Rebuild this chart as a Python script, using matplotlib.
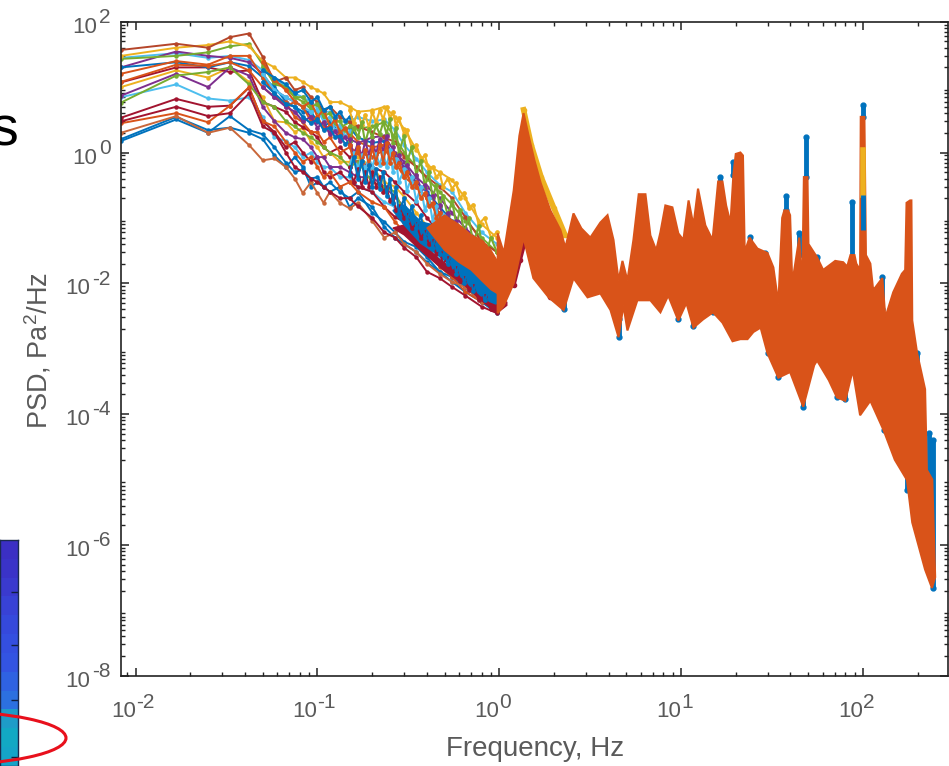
import matplotlib
matplotlib.use("Agg")
import matplotlib.pyplot as plt
from matplotlib.patches import Ellipse
from matplotlib.colors import to_rgb
from matplotlib.ticker import LogLocator, NullFormatter

plt.rcParams['font.family'] = ['Liberation Sans', 'DejaVu Sans']
plt.rcParams['mathtext.fontset'] = 'custom'
plt.rcParams['mathtext.rm'] = 'Liberation Sans'
plt.rcParams['mathtext.default'] = 'regular'

blue, orange, yellow, purple, green, cyan, red = '#0072BD', '#D95319', '#EDB120', '#7E2F8E', '#77AC30', '#4DBEEE', '#A2142F'

# low frequency part, one list per run
f_low = [0.0083, 0.0167, 0.025, 0.033, 0.042, 0.05, 0.058, 0.067, 0.075, 0.083, 0.092, 0.1, 0.108, 0.117,
         0.133, 0.15, 0.167, 0.2, 0.233, 0.267, 0.3, 0.35, 0.4, 0.47, 0.55, 0.65, 0.8, 0.97]
s01 = [37, 46, 40, 58, 66, 29, 12, 14, 9, 10, 7, 5.9, 4.2, 5, 3.5, 2.9, 2.5, 2.05, 1.7, 1.45, .85, .6, .42, .3, .2, .103, .043, .03]
s02 = [30, 40, 44, 50, 42, 25, 20, 14, 14, 12, 10, 9, 8, 5.9, 5.9, 5, 4.2, 4.4, 5, 3.5, 2.3, 1.1, .65, .5, .38, .2, .08, .05]
s03 = [28, 33, 28, 30, 26, 18, 14, 10, 8, 7, 5.9, 5, 4.2, 4.2, 3.5, 3, 3.5, 3, 3.2, 2.2, 1.3, .8, .5, .32, .25, .12, .06, .04]
s04 = [27, 30, 34, 42, 46, 22, 11, 10, 7, 6, 4.6, 4.2, 3.5, 3, 2.4, 2.9, 2.3, 2.5, 2.9, 1.7, 1, .6, .4, .25, .16, .09, .05, .03]
s05 = [20, 35, 30, 28, 24, 16, 9, 7, 5.9, 5, 3.5, 2.9, 2.5, 2.05, 2, 1.6, 1.4, 1.7, 1.8, 1, .72, .42, .3, .2, .12, .07, .04, .02]
s06 = [20, 24, 20, 24, 21, 14, 10, 6, 5, 4.2, 4.2, 3, 2.5, 2.9, 2.05, 2.4, 1.7, 1.4, 1.5, .85, .6, .35, .25, .147, .09, .05, .025, .012]
s07 = [12, 22, 21, 24, 18, 10, 7, 5.9, 3.5, 2.9, 2.05, 2.05, 1.45, 1.7, 1, 1.2, 1, .85, 1.1, .72, .42, .3, .2, .1, .06, .035, .02, .01]
s08 = [11.8, 20, 20, 17, 18, 5.9, 5, 4.2, 2.9, 2.45, 2.05, 1.7, 1.2, 1, 1.2, .85, .72, .6, .5, .35, .25, .17, .1, .06, .035, .018, .01, .006]
s09 = [10, 18, 14, 20, 12, 7, 3, 2.9, 2.05, 2.4, 1.45, 1.2, .85, 1, .72, .72, .85, .6, .35, .3, .21, .12, .075, .045, .03, .015, .009, .005]
s10 = [7.4, 16, 10, 20, 15, 5, 3, 2, 1.7, 1.6, 1.2, .85, .85, .6, .6, .5, .42, .42, .3, .21, .147, .087, .06, .036, .02, .012, .0074, .0044]
s11 = [5.8, 15, 17, 20, 11, 5.9, 5, 3, 2.5, 2, 1.7, 1.45, 1.2, 1, .85, .6, .72, .35, .3, .25, .12, .087, .05, .03, .0175, .0105, .0062, .0037]
s12 = [7, 11, 6.7, 6.2, 7, 3.5, 1.7, 1.5, 1.2, .85, 1, .72, .6, .6, .42, .42, .3, .25, .175, .147, .1, .06, .04, .025, .015, .009, .0065, .0045]
s13 = [3.4, 6.6, 5, 5.2, 9.8, 3, 2.05, 1.2, 1.45, 1, .72, .85, .5, .42, .5, .35, .3, .25, .147, .103, .087, .05, .036, .021, .0125, .0088, .0052, .0037]
s14 = [2.8, 4, 2.9, 5.2, 10, 3, 2.5, 1.45, 1, .72, .85, .6, .42, .5, .3, .35, .25, .175, .147, .087, .061, .043, .03, .018, .0125, .0074, .0052, .0044]
s15 = [2, 3.6, 2, 2.4, 1.3, .76, .81, .6, .4, .24, .35, .24, .17, .25, .17, .14, .17, .09, .05, .06, .04, .03, .02, .014, .0105, .0088, .0052, .0044]
s16 = [1.5, 3.2, 2, 3.6, 2.2, 1.9, 1.2, .7, .5, .55, .4, .42, .3, .35, .25, .2, .25, .12, .087, .06, .043, .036, .025, .015, .0125, .0088, .0062, .0044]
s17 = [1.6, 3.5, 2.2, 2.4, 2, 1.6, .9, .6, .85, .6, .3, .35, .3, .25, .3, .147, .2, .147, .073, .05, .04, .03, .021, .015, .0105, .0074, .0052, .0035]
s18 = [3, 5, 3.6, 4, 8, 2.5, 2, 1, .6, .5, .4, .35, .3, .25, .2, .2, .15, .1, .06, .05, .035, .025, .015, .012, .0088, .0065, .0044, .0035]
s19 = [16, 25, 22, 30, 30, 14, 8, 5, 6, 5, 3, 3.5, 2.4, 2.5, 1.7, 2, 1.45, 1.2, 1.3, .85, .5, .3, .2, .12, .07, .04, .02, .012]
low_runs = [s12, s03, s05, s04, s02, s09, s13, s08, s10, s11, s06, s17, s16, s01, s14, s15, s18, s07, s19]
low_colors = [cyan, cyan, purple, green, yellow, yellow, red, red, purple, green,
              blue, blue, blue, '#B5452A', orange, '#C9673A', red, orange, orange]

# extra runs where the band is thick, 0.05 to 0.15 Hz
f_mid = [0.05, 0.058, 0.067, 0.075, 0.083, 0.092, 0.1, 0.108, 0.117, 0.125, 0.133, 0.142, 0.15]
mid_blue = [18, 14, 11, 8, 9, 6, 7, 4.5, 5, 3.5, 4.2, 3, 3.5]
mid_green = [20, 12, 10, 7, 7, 5, 5.5, 3.6, 4, 3, 3, 2.2, 2.5]
mid_cyan = [16, 9, 7, 6, 5, 4.2, 4.5, 3, 3.5, 2.2, 2.6, 1.8, 2.1]
mid_purple = [10, 7, 5, 4.2, 3, 3.5, 2.4, 2.9, 1.9, 2.1, 1.5, 1.7, 1.3]
mid_orange = [24, 13, 9, 6, 5, 6, 3.5, 4.5, 2.5, 3.2, 2, 2.4, 1.7]
mid_blue2 = [12, 8, 5.5, 5, 3.5, 2.8, 3.2, 2.2, 2.4, 1.7, 1.8, 1.35, 1.5]
mid_runs = [mid_cyan, mid_purple, mid_green, mid_orange, mid_blue2, mid_blue]
mid_colors = [cyan, purple, green, orange, blue, blue]

# ragged runs between 0.15 and 1 Hz
f_rag = [0.15, .158, .167, .175, .183, .192, .2, .21, .22, .23, .24, .25, .26, .27, .28, .3, .31, .33, .35, .37,
         .39, .41, .43, .45, .47, .49, .52, .55, .58, .61, .64, .68, .72, .77, .83, .9, .97]
rag_yellow = [4.4, 2.8, 4.2, 2.6, 3.8, 2.4, 4.2, 2.9, 4.4, 3.2, 5, 3.4, 4.2, 2.6, 3.4, 1.9, 2.2, 1.2, 1.3, .8, .9, .55, .6, .42, .48, .3, .4, .28, .34, .2, .24, .14, .16, .08, .1, .05, .06]
rag_green = [1.5, 2.4, 1.7, 2.9, 1.4, 2.3, 1.7, 2.6, 1.9, 2.9, 1.9, 3.2, 1.4, 2.4, 1, 1.8, .7, 1.2, .45, .75, .3, .5, .2, .32, .15, .22, .11, .18, .08, .13, .06, .1, .04, .075, .025, .05, .03]
rag_purple = [1.6, .9, 1.4, .85, 1.5, .9, 1.5, .95, 1.6, 1, 1.8, .95, 1.2, .75, .9, .55, .65, .4, .45, .28, .32, .2, .22, .14, .16, .1, .12, .07, .09, .05, .06, .035, .045, .025, .03, .018, .02]
rag_cyan = [.6, 1, .55, .9, .55, .85, .6, .95, .65, 1, .6, 1.1, .5, .8, .35, .55, .26, .42, .18, .3, .13, .2, .09, .15, .06, .11, .05, .08, .032, .055, .024, .042, .017, .03, .012, .02, .014]
rag_red = [.6, .35, .55, .3, .5, .3, .5, .3, .42, .25, .3, .18, .22, .13, .15, .1, .11, .07, .08, .05, .06, .04, .045, .028, .03, .02, .024, .015, .017, .011, .012, .008, .009, .0055, .0065, .004, .0045]
rag_blue = [.45, .85, .4, .75, .35, .65, .3, .55, .28, .5, .22, .4, .17, .3, .12, .2, .09, .15, .07, .11, .05, .075, .035, .055, .028, .04, .02, .03, .014, .022, .01, .016, .0075, .012, .0055, .009, .007]
rag_orange = [1.3, .75, 1.2, .7, 1.1, .65, 1.2, .7, 1.3, .7, 1.4, .7, 1, .6, .7, .42, .5, .3, .35, .2, .24, .15, .17, .1, .12, .07, .09, .05, .06, .035, .042, .024, .03, .017, .02, .011, .014]
rag_runs = [rag_yellow, rag_green, rag_purple, rag_cyan, rag_orange]
rag_colors = [yellow, green, purple, cyan, orange]

# solid ribbons at the bottom of the band below 1 Hz
f_ribbon_blue = [.26, .3, .37, .48, .575, .70, .84, .98, 1.1]
ribbon_blue_top = [.13, .158, .087, .073, .046, .025, .01, .0095, .0095]
ribbon_blue_bottom = [.13, .078, .041, .025, .015, .0088, .0056, .0047, .0066]
f_ribbon_red = [.26, .3, .37, .48, .64, .79, .97, 1.1]
ribbon_red_top = [.07, .078, .041, .022, .012, .0066, .0047, .0052]
ribbon_red_bottom = [.07, .055, .032, .017, .0095, .0056, .0035, .0046]
f_ribbon_orange = [.4, .5, .6, .7, .8, .9, 1.0, 1.1]
ribbon_orange_top = [.07, .11, .079, .055, .046, .032, .0195, .027]
ribbon_orange_bottom = [.07, .032, .021, .016, .011, .008, .0067, .008]

# edges of the merged runs above 1 Hz
f_upper = [0.98, 1.06, 1.2, 1.29, 1.36, 1.45, 1.56, 1.69, 1.91, 2.17, 2.31, 2.56, 2.83, 3.17, 3.6, 3.94, 4.25, 4.53, 4.76, 5.07,
           5.47, 5.85, 6.37, 6.78, 7.3, 7.7, 8.2, 8.96, 9.66, 10.3, 11, 11.7, 12.4, 13.6, 14.9, 16, 16.9, 17.7, 18.7, 19.4, 20, 21.2, 21.9,
           22.4, 23.8, 26.3, 29.9, 32.2, 34.3, 36, 37, 38.8, 39.8, 40.9, 44.7, 46.4, 47.4, 49.6, 50.2, 56, 60.5, 70.5, 78, 82, 85.5, 90,
           92, 96.6, 97.4, 102, 104, 110, 114, 128, 133, 147, 164, 171, 174, 182, 185, 187, 199, 220, 225, 241, 250]
psd_upper = [.058, .029, .26, 1.8, 4.0, 1.8, .76, .34, .13, .065, .035, .117, .069, .05, .085, .11, .046, .011, .022, .011,
             .046, .23, .23, .054, .032, .06, .155, .145, .058, .046, .185, .077, .28, .077, .046, .36, .36, .155, .083, .45, .95, 1.0, .9,
             .03, .05, .034, .029, .0175, .0049, .1, .13, .13, .11, .01, .05, .0078, .42, .42, .04, .025, .016, .022, .021, .018, .027, .027,
             .02, .016, 3.5, 3.5, .027, .02, .0078, .012, .003, .0073, .014, .016, .17, .185, .185, .0027, .00085, .00024, 1.4e-5, 1e-5, 3.2e-7]
f_lower = [0.98, 1.06, 1.2, 1.36, 1.54, 1.87, 2.26, 2.56, 3.06, 3.6, 4.09, 4.53, 4.82, 5.07, 5.75, 6.78, 7.7, 8.5, 9.66, 10.7,
           11.7, 13.2, 15, 16.9, 19.2, 21.2, 23.2, 25, 27.4, 29.9, 34.3, 39.8, 47, 54, 56, 65, 72, 80, 88, 96.6,
           110, 130, 150, 175, 187, 220, 240]
psd_lower = [.0035, .0046, .01, .05, .012, .0061, .0039, .012, .0061, .007, .0039, .0015, .0046, .0019, .0055, .0055, .0036, .0065, .0027, .005,
             .0021, .0028, .0036, .0025, .0013, .0014, .0014, .0018, .0021, .00085, .00036, .00044, .00013, .00056, .00066, .00033, .00018, .00016, .00047, 9.6e-5,
             .00016, 5.7e-5, 2e-5, 9.8e-6, 2.2e-6, 4.2e-7, 2.2e-7]

# short stretches of the blue runs that show past the orange
f_blue = [48.9, 19.4, 16.4, 37.9, 44.7, 87.4, 100, 29, 23.8, 56, 128, 114, 136, 199, 4.53, 2.26, 9.66, 11.7, 15, 29.9, 34.3, 47, 72, 80, 130, 175, 232, 243]
blue_high = [1.72, .72, .42, .22, .059, .175, 5.3, .029, .051, .0255, .0125, .008, .003, .00085, .0028, .0062, .004, .004, .0056, .0014, .00057, .0002, .00028, .00024, 8e-5, 1.4e-5, 5.1e-5, 4e-5]
blue_low = [.42, .45, .27, .133, .027, .023, 3.5, .0088, .0255, .016, .004, .0044, .00076, .00043, .0015, .004, .0028, .0022, .0037, .00085, .00037, .00013, .00018, .00017, 5.8e-5, 7e-6, 1e-5, 2.2e-7]
f_over_blue = [100]
over_blue_high = [.224]
over_blue_low = [.066]
f_peak_red = [1.2, 1.3, 1.4, 1.5, 1.7, 1.9, 2.2]
peak_red = [.0095, .023, .05, .027, .0115, .0062, .0047]
f_peak_yellow = [1.36, 1.5, 1.7, 2.0, 2.3]
peak_yellow = [4.5, 1.3, .42, .14, .055]
f_tip_yellow = [100, 100]
tip_yellow = [1.1, .224]

# the slide behind the chart, left edge
strip_colors = ['#3B2FC4', '#3A33C8', '#3A3ACE', '#3842D6', '#3549DC', '#344FE0', '#3354E2', '#2F62E2', '#2C70E0', '#1E9CC8', '#12A8C4', '#14A4C8']
strip_ticks = [2.26, 5.07, 8.0, 11.0]

x_exponents = [-2, -1, 0, 1, 2]
y_exponents = [-8, -6, -4, -2, 0, 2]

fig = plt.figure(figsize=(9.49, 7.66), dpi=100)

strip = fig.add_axes([0, 0, 18 / 949, 226 / 766])
strip.imshow([[to_rgb(c)] for c in strip_colors], aspect='auto')
strip.set_xticks([])
strip.yaxis.tick_right()
strip.set_yticks(strip_ticks)
strip.set_yticklabels([])
strip.tick_params(axis='y', direction='in', length=5, width=1, color='#102040')
for sp in strip.spines.values():
    sp.set_color('#1a2a50')
    sp.set_linewidth(1)

slide = fig.add_axes([0, 0, 1, 1], facecolor='none')
slide.set_xlim(0, 949)
slide.set_ylim(766, 0)
slide.axis('off')
slide.add_patch(Ellipse((-60, 738), 252, 54, fill=False, edgecolor='#e8101c', linewidth=2.2))
slide.text(-10, 145, "s", fontsize=40, ha='left', va='baseline', color='black')

ax = fig.add_axes([121 / 949, (766 - 675.7) / 766, 826.7 / 949, 654 / 766])
ax.patch.set_alpha(0)

ax.set_xscale('log')
ax.set_yscale('log')

for run, col in zip(low_runs, low_colors):
    ax.plot(f_low, run, color=col, lw=1.4, marker='o', ms=2.2, zorder=2)
for run, col in zip(mid_runs, mid_colors):
    ax.plot(f_mid, run, color=col, lw=1.5, marker='o', ms=2.4, zorder=2.1)
for run, col in zip(rag_runs, rag_colors):
    ax.plot(f_rag, run, color=col, lw=1.5, marker='o', ms=2.4, zorder=2.2)

ax.fill(f_ribbon_red + f_ribbon_red[::-1], ribbon_red_top + ribbon_red_bottom[::-1], color=red, lw=1, zorder=2.3)
ax.fill(f_ribbon_blue + f_ribbon_blue[::-1], ribbon_blue_top + ribbon_blue_bottom[::-1], color=blue, lw=1, zorder=2.4)
ax.plot(f_rag, rag_red, color=red, lw=1.4, marker='o', ms=2.4, zorder=2.5)
ax.plot(f_rag, rag_blue, color=blue, lw=1.5, marker='o', ms=2.4, zorder=2.6)
ax.fill(f_ribbon_orange + f_ribbon_orange[::-1], ribbon_orange_top + ribbon_orange_bottom[::-1], color=orange, lw=1, zorder=2.7)

ax.plot(f_peak_red, peak_red, color=red, lw=3, marker='o', ms=3, zorder=3)
ax.plot(f_peak_yellow, peak_yellow, color=yellow, lw=4, marker='o', ms=3, zorder=3)
ax.vlines(f_blue, blue_low, blue_high, color=blue, lw=3.5, zorder=4)
ax.plot(f_blue, blue_high, ls='none', color=blue, marker='o', ms=3.5, zorder=4)
ax.plot(f_blue, blue_low, ls='none', color=blue, marker='o', ms=3.5, zorder=4)
ax.fill(f_upper + f_lower[::-1], psd_upper + psd_lower[::-1], color=orange, lw=1.5, zorder=5)
ax.plot(f_tip_yellow, tip_yellow, color=yellow, lw=4, zorder=6)
ax.vlines(f_over_blue, over_blue_low, over_blue_high, color=blue, lw=3.5, zorder=6)

ax.set_xlim(0.0083, 293)
ax.set_ylim(1e-8, 1e2)
ax.set_xticks([10.0 ** e for e in x_exponents])
ax.set_yticks([10.0 ** e for e in y_exponents])
ax.set_xticklabels([])
ax.set_yticklabels([])
ax.xaxis.set_minor_formatter(NullFormatter())
ax.yaxis.set_minor_locator(LogLocator(base=10, subs=range(2, 10), numticks=20))
ax.yaxis.set_minor_formatter(NullFormatter())
ax.tick_params(which='major', direction='in', length=6, width=1.1, top=True, right=True, color='#222222')
ax.tick_params(which='minor', direction='in', length=3, width=1, top=True, right=True, color='#222222')
for sp in ax.spines.values():
    sp.set_linewidth(1.2)
    sp.set_color('#222222')

# base and exponent are set apart because the shrink of mathtext is too strong here
label_color = '#5a5a5a'
for e in x_exponents:
    x = 10.0 ** e
    ax.annotate("10", (x, 0), xycoords=ax.get_xaxis_transform(), xytext=(0, -26), textcoords='offset points',
                ha='right', va='center', fontsize=16, color=label_color)
    ax.annotate(str(e), (x, 0), xycoords=ax.get_xaxis_transform(), xytext=(0, -19), textcoords='offset points',
                ha='left', va='center', fontsize=15, color=label_color)
for e in y_exponents:
    y = 10.0 ** e
    base_shift = -22 if e < 0 else -17
    ax.annotate("10", (0, y), xycoords=ax.get_yaxis_transform(), xytext=(base_shift, -4), textcoords='offset points',
                ha='right', va='center', fontsize=16, color=label_color)
    ax.annotate(str(e), (0, y), xycoords=ax.get_yaxis_transform(), xytext=(-7.5, 3), textcoords='offset points',
                ha='right', va='center', fontsize=15, color=label_color)

fig.text(535 / 949, 1 - 749 / 766, "Frequency, Hz", fontsize=20, color=label_color, ha='center', va='center')
fig.text(38 / 949, 1 - 351 / 766, "PSD, Pa$^2$/Hz", fontsize=19.5, color=label_color, ha='center', va='center', rotation=90)

fig.savefig("out.png", dpi=100)
